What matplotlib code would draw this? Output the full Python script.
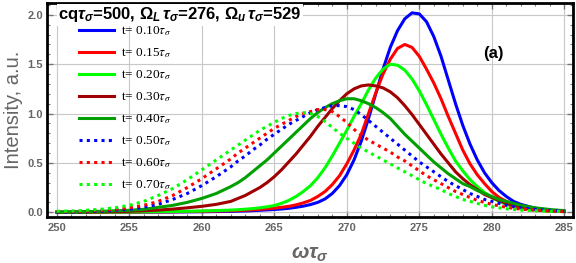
import matplotlib
matplotlib.use('Agg')
import matplotlib.pyplot as plt
from matplotlib.ticker import MultipleLocator, FormatStrFormatter
from matplotlib.font_manager import FontProperties

# frequency grid (omega*tau_sigma)
w = [250, 251, 252, 253, 254, 255, 256, 257, 258, 259, 260, 261, 262,
     262.5, 263, 263.5, 264, 264.5, 265, 265.5, 266, 266.5, 267, 267.5, 268,
     268.5, 269, 269.5, 270, 270.5, 271, 271.5, 272, 272.5, 273, 273.5, 274,
     274.5, 275, 275.5, 276, 276.5, 277, 277.5, 278, 278.5, 279, 279.5, 280,
     280.5, 281, 281.5, 282, 283, 284, 285]

# t = 0.10
i010 = [0, 0, 0, 0, 0, 0, 0.001, 0.002, 0.003, 0.004, 0.005, 0.007, 0.009,
        0.011, 0.013, 0.016, 0.02, 0.024, 0.028, 0.033, 0.04, 0.05, 0.062, 0.078, 0.10,
        0.135, 0.19, 0.27, 0.38, 0.53, 0.72, 0.95, 1.20, 1.45, 1.67, 1.84, 1.96,
        2.02, 2.01, 1.93, 1.78, 1.58, 1.34, 1.10, 0.88, 0.69, 0.53, 0.40, 0.30,
        0.22, 0.16, 0.11, 0.08, 0.04, 0.018, 0.008]
# t = 0.15
i015 = [0, 0, 0, 0, 0.001, 0.002, 0.003, 0.004, 0.005, 0.007, 0.009, 0.012, 0.015,
        0.018, 0.021, 0.025, 0.03, 0.035, 0.042, 0.05, 0.06, 0.075, 0.095, 0.12, 0.16,
        0.21, 0.28, 0.37, 0.49, 0.63, 0.79, 1.00, 1.21, 1.40, 1.55, 1.66, 1.70,
        1.67, 1.58, 1.45, 1.31, 1.15, 0.97, 0.80, 0.63, 0.49, 0.38, 0.29, 0.21,
        0.15, 0.11, 0.08, 0.055, 0.028, 0.013, 0.006]
# t = 0.20
i020 = [0, 0, 0, 0.001, 0.002, 0.003, 0.004, 0.006, 0.008, 0.01, 0.013, 0.017, 0.022,
        0.026, 0.031, 0.037, 0.045, 0.055, 0.068, 0.09, 0.12, 0.16, 0.21, 0.27, 0.35,
        0.45, 0.57, 0.70, 0.83, 0.97, 1.10, 1.24, 1.36, 1.45, 1.50, 1.49, 1.44,
        1.35, 1.23, 1.09, 0.94, 0.79, 0.65, 0.52, 0.42, 0.33, 0.26, 0.20, 0.15,
        0.11, 0.08, 0.058, 0.042, 0.022, 0.012, 0.006]
# t = 0.30
i030 = [0, 0, 0.002, 0.004, 0.006, 0.01, 0.015, 0.022, 0.032, 0.045, 0.06, 0.08, 0.11,
        0.14, 0.17, 0.21, 0.25, 0.30, 0.36, 0.43, 0.51, 0.59, 0.68, 0.77, 0.87,
        0.96, 1.05, 1.13, 1.20, 1.25, 1.28, 1.29, 1.28, 1.26, 1.22, 1.16, 1.08,
        0.99, 0.89, 0.79, 0.69, 0.59, 0.50, 0.41, 0.34, 0.28, 0.23, 0.18, 0.15,
        0.12, 0.09, 0.07, 0.055, 0.03, 0.018, 0.01]
# t = 0.40
i040 = [0, 0.002, 0.005, 0.01, 0.015, 0.02, 0.03, 0.05, 0.07, 0.10, 0.14, 0.19, 0.26,
        0.30, 0.35, 0.41, 0.47, 0.53, 0.60, 0.67, 0.74, 0.81, 0.88, 0.95, 1.01,
        1.06, 1.10, 1.13, 1.15, 1.15, 1.13, 1.10, 1.06, 1.01, 0.95, 0.87, 0.79,
        0.72, 0.65, 0.58, 0.51, 0.45, 0.39, 0.34, 0.29, 0.26, 0.22, 0.19, 0.16,
        0.13, 0.11, 0.09, 0.07, 0.045, 0.028, 0.016]
# t = 0.50
i050 = [0, 0.003, 0.005, 0.01, 0.02, 0.03, 0.05, 0.08, 0.13, 0.19, 0.27, 0.36, 0.46,
        0.52, 0.57, 0.63, 0.68, 0.74, 0.79, 0.84, 0.89, 0.93, 0.97, 1.01, 1.04,
        1.06, 1.08, 1.08, 1.07, 1.04, 0.99, 0.93, 0.87, 0.81, 0.75, 0.69, 0.63,
        0.57, 0.51, 0.46, 0.41, 0.36, 0.31, 0.27, 0.23, 0.19, 0.16, 0.13, 0.11,
        0.09, 0.07, 0.055, 0.045, 0.03, 0.018, 0.01]
# t = 0.60
i060 = [0.005, 0.007, 0.01, 0.018, 0.03, 0.045, 0.07, 0.11, 0.17, 0.25, 0.34, 0.44, 0.54,
        0.60, 0.65, 0.70, 0.75, 0.80, 0.85, 0.89, 0.93, 0.97, 1.00, 1.02, 1.04,
        1.04, 1.02, 0.97, 0.91, 0.84, 0.78, 0.73, 0.69, 0.65, 0.61, 0.56, 0.52,
        0.47, 0.42, 0.37, 0.33, 0.29, 0.25, 0.21, 0.18, 0.15, 0.12, 0.10, 0.08,
        0.065, 0.05, 0.04, 0.032, 0.02, 0.012, 0.008]
# t = 0.70
i070 = [0.01, 0.013, 0.02, 0.03, 0.045, 0.07, 0.11, 0.17, 0.24, 0.33, 0.43, 0.53, 0.63,
        0.68, 0.73, 0.78, 0.83, 0.87, 0.91, 0.95, 0.98, 1.00, 1.01, 1.00, 0.97,
        0.92, 0.86, 0.80, 0.75, 0.70, 0.65, 0.61, 0.57, 0.53, 0.49, 0.45, 0.41,
        0.37, 0.33, 0.29, 0.26, 0.23, 0.19, 0.16, 0.13, 0.11, 0.09, 0.07, 0.055,
        0.045, 0.035, 0.028, 0.022, 0.015, 0.01, 0.008]

series = [i010, i015, i020, i030, i040, i050, i060, i070]
labels = ['0.10', '0.15', '0.20', '0.30', '0.40', '0.50', '0.60', '0.70']
colors = ['#0000ff', '#ff0000', '#00ff00', '#a00000', '#00a000', '#0000ff', '#ff0000', '#00ff00']
dotted = [False, False, False, False, False, True, True, True]

plt.rcParams['mathtext.fontset'] = 'custom'
plt.rcParams['mathtext.rm'] = 'Liberation Sans:bold'
plt.rcParams['mathtext.bf'] = 'Liberation Sans:bold'
plt.rcParams['mathtext.it'] = 'Liberation Sans:bold:italic'

gray = '#666666'
fig = plt.figure(figsize=(5.76, 2.63), dpi=100)
ax = fig.add_axes([47/576, 1-217/263, 526/576, 214/263])

for s, lab, c, d in zip(series, labels, colors, dotted):
    if d:
        ax.plot(w, s, color=c, lw=2.2, ls=(0, (1, 1.4)), label=r't= ' + lab + r'$\tau_\sigma$')
    else:
        ax.plot(w, s, color=c, lw=2.2, label=r't= ' + lab + r'$\tau_\sigma$')

ax.set_xlim(249.33, 285.6)
ax.set_ylim(-0.048, 2.12)
ax.xaxis.set_major_locator(MultipleLocator(5))
ax.xaxis.set_minor_locator(MultipleLocator(1))
ax.yaxis.set_major_locator(MultipleLocator(0.5))
ax.yaxis.set_minor_locator(MultipleLocator(0.1))
ax.yaxis.set_major_formatter(FormatStrFormatter('%.1f'))
ax.tick_params(which='both', direction='in', top=True, right=True, color='#777777',
               labelcolor=gray, labelsize=8)
ax.tick_params(which='major', length=4, width=1)
ax.tick_params(which='minor', length=2, width=0.8)
ax.tick_params(axis='x', pad=4)
ax.tick_params(axis='y', pad=3)
for t in ax.get_xticklabels() + ax.get_yticklabels():
    t.set_fontweight('bold')
    t.set_family('Liberation Sans')
for sp in ax.spines.values():
    sp.set_linewidth(2)
ax.grid(True, color='#c8c8c8', lw=0.8)
ax.set_axisbelow(True)

ax.set_xlabel(r'$\omega\tau_\sigma$', fontsize=15, color=gray, labelpad=8)
ax.set_ylabel('Intensity, a.u.', fontsize=14.5, color=gray, family='Liberation Sans', labelpad=3)

ax.text(0.021, 0.944, r'cq$\tau_\sigma$=500, $\Omega_L\,\tau_\sigma$=276, $\Omega_u\,\tau_\sigma$=529',
        transform=ax.transAxes, fontsize=12, fontweight='bold', family='Liberation Sans',
        va='center', ha='left', bbox=dict(facecolor='white', edgecolor='none', pad=1))
ax.text(280.1, 1.61, '(a)', fontsize=12, fontweight='bold', family='Liberation Sans',
        ha='center', va='center')

leg = ax.legend(loc='upper left', bbox_to_anchor=(0.05, 0.925), frameon=False,
                prop=FontProperties(family='Liberation Serif', size=9.5, math_fontfamily='stix'),
                handlelength=2.7, labelspacing=0.62, handletextpad=0.5, borderaxespad=0)

fig.savefig('out.png', dpi=100)
